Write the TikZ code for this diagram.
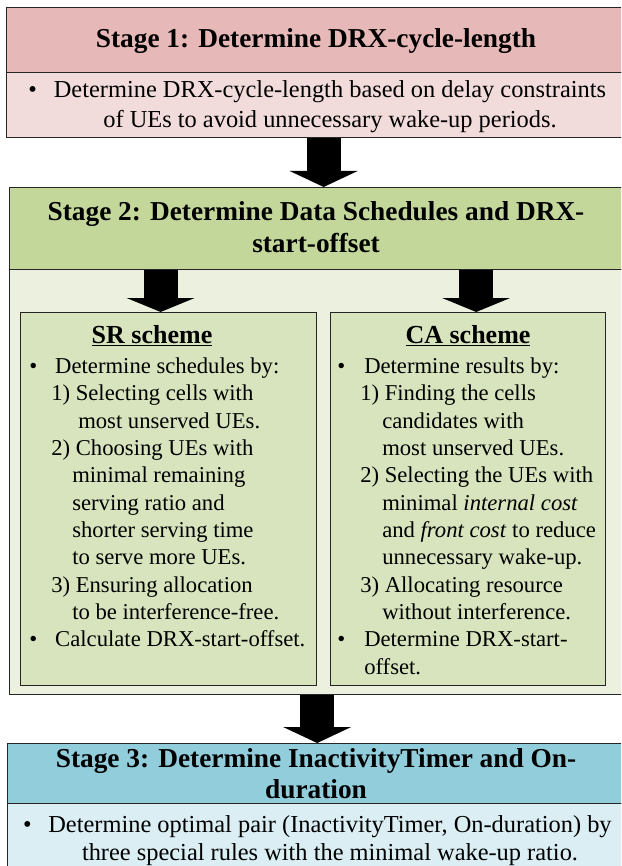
\documentclass[tikz,border=0pt]{standalone}
\usepackage{fontspec}
\setmainfont{Liberation Serif}
\usetikzlibrary{arrows.meta}
\definecolor{redhead}{HTML}{E6B8B7}
\definecolor{redbody}{HTML}{F2DCDB}
\definecolor{greenhead}{HTML}{C4D79B}
\definecolor{greenbody}{HTML}{EBF1DE}
\definecolor{greenbox}{HTML}{D7E4BD}
\definecolor{bluehead}{HTML}{92CDDC}
\definecolor{bluebody}{HTML}{DAEEF3}
\begin{document}
\begin{tikzpicture}[x=0.75pt,y=-0.75pt,
  box/.style={draw=black!85,line width=1pt,inner sep=0pt,anchor=north west},
  bigarrow/.style={line width=25.5pt,-{Triangle[length=#1,width=51pt,line width=0pt]}},
  bigarrow/.default=12pt,
  title/.style={font=\fontsize{20.5}{24}\selectfont\bfseries,align=center,inner sep=0pt},
  body/.style={font=\fontsize{18.3}{22.5}\selectfont,align=center,inner sep=0pt},
  list/.style={font=\fontsize{17}{20.5}\selectfont,align=left,inner sep=0pt,anchor=north west}]
\useasboundingbox (0,0) rectangle (621,866);
\clip (0,0) rectangle (621,866);

\node[box,fill=redhead,minimum width=465pt,minimum height=48.75pt](1) at (6,7){};
\node[box,fill=redbody,minimum width=465pt,minimum height=48.75pt](2) at (6,72){};
\node[box,fill=greenhead,minimum width=461.25pt,minimum height=61.5pt](3) at (9,187){};
\node[box,fill=greenbody,minimum width=461.25pt,minimum height=318.75pt](4) at (9,269){};
\node[box,fill=greenbox,minimum width=222pt,minimum height=279.75pt](5) at (20,312){};
\node[box,fill=greenbox,minimum width=206.25pt,minimum height=279.75pt](6) at (330,312){};
\node[box,fill=bluehead,minimum width=465pt,minimum height=45pt](7) at (7,743){};
\node[box,fill=bluebody,minimum width=465pt,minimum height=72.75pt](8) at (7,803){};

\node[title,anchor=base](9) at (316,48){Stage 1: Determine DRX-cycle-length};
\node[body,anchor=north](10) at (330,80.3){\llap{\textbullet\hspace{12.75pt}}Determine DRX-cycle-length based on delay constraints\\of UEs to avoid unnecessary wake-up periods.};
\node[title,anchor=north](11) at (316,201){Stage 2: Determine Data Schedules and DRX-\\start-offset};
\node[title,anchor=base,font=\fontsize{19.5}{24}\selectfont\bfseries](12) at (152,343){\underline{SR scheme}};
\node[title,anchor=base,font=\fontsize{19.5}{24}\selectfont\bfseries](13) at (468,343){\underline{CA scheme}};
\node[list](14) at (29,357.5){\makebox[19.5pt][l]{\textbullet}Determine schedules by:\\
\hspace*{16.5pt}1) Selecting cells with\\
\hspace*{36.75pt}most unserved UEs.\\
\hspace*{16.5pt}2) Choosing UEs with\\
\hspace*{32.25pt}minimal remaining\\
\hspace*{32.25pt}serving ratio and\\
\hspace*{32.25pt}shorter serving time\\
\hspace*{32.25pt}to serve more UEs.\\
\hspace*{16.5pt}3) Ensuring allocation\\
\hspace*{32.25pt}to be interference-free.\\
\makebox[19.5pt][l]{\textbullet}Calculate DRX-start-offset.};
\node[list](15) at (337,357.5){\makebox[20.25pt][l]{\textbullet}Determine results by:\\
\hspace*{17.25pt}1) Finding the cells\\
\hspace*{33.75pt}candidates with\\
\hspace*{33.75pt}most unserved UEs.\\
\hspace*{17.25pt}2) Selecting the UEs with\\
\hspace*{33.75pt}minimal \textit{internal cost}\\
\hspace*{33.75pt}and \textit{front cost} to reduce\\
\hspace*{33.75pt}unnecessary wake-up.\\
\hspace*{17.25pt}3) Allocating resource\\
\hspace*{33.75pt}without interference.\\
\makebox[20.25pt][l]{\textbullet}Determine DRX-start-\\
\hspace*{20.25pt}offset.};
\node[title,anchor=north,font=\fontsize{20.5}{23.25}\selectfont\bfseries](16) at (316,748){Stage 3: Determine InactivityTimer and On-\\duration};
\node[body,anchor=north,font=\fontsize{18.3}{21}\selectfont](17) at (330,815.3){\llap{\textbullet\hspace{12.5pt}}Determine optimal pair (InactivityTimer, On-duration) by\\three special rules with the minimal wake-up ratio.};

\draw[bigarrow]([xshift=5.25pt]2.south)--([xshift=5.25pt]2.south |- 3.north);
\draw[bigarrow=10.5pt]([xshift=-117.4pt]3.south)--([xshift=-117.4pt]3.south |- 5.north);
\draw[bigarrow=10.5pt]([xshift=119.25pt]3.south)--([xshift=119.25pt]3.south |- 6.north);
\draw[bigarrow](4.south)--(4.south |- 7.north);
\end{tikzpicture}
\end{document}
